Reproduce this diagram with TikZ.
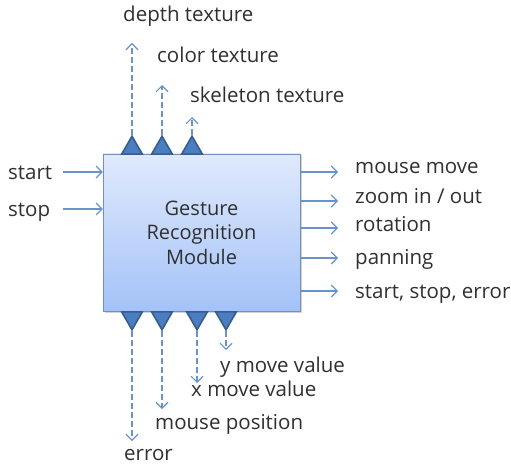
\documentclass[tikz,border=0pt]{standalone}
\usepackage{fontspec}
\setmainfont{Open Sans}
\usetikzlibrary{arrows.meta,positioning,shapes.geometric,shadows}
\definecolor{linkblue}{HTML}{6A93CC}
\definecolor{portblue}{HTML}{4A7EC0}
\definecolor{portedge}{HTML}{375C8E}
\definecolor{boxedge}{HTML}{6F91C2}
\definecolor{boxtop}{HTML}{E0EAFC}
\definecolor{boxbottom}{HTML}{A4C2F8}
\definecolor{txt}{HTML}{303030}
\tikzstyle{module}=[
	rectangle,
	draw=boxedge,
	thin,
	top color=boxtop,
	bottom color=boxbottom,
	drop shadow={opacity=.35, shadow xshift=1.5pt, shadow yshift=-1.5pt},
	minimum width=197pt,
	minimum height=157pt,
	align=center,
	text=txt,
	font=\fontsize{20}{24.5}\selectfont
]
\tikzstyle{port}=[
	regular polygon,
	regular polygon sides=3,
	minimum size=24pt,
	inner sep=0pt,
	fill=portblue,
	draw=portedge,
	line width=1.6pt
]
\tikzstyle{signal}=[
	-{Straight Barb[length=6pt,width=12pt]},
	draw=linkblue,
	line width=1.1pt
]
\tikzstyle{result}=[
	signal,
	dash pattern=on 6pt off 3pt
]
\tikzstyle{sigtext}=[
	anchor=west,
	inner sep=0pt,
	text=txt,
	text height=13pt,
	text depth=3pt,
	font=\fontsize{20.5}{22}\selectfont
]

\begin{document}
\begin{tikzpicture}[x=1pt,y=-1pt]
\useasboundingbox (0,0) rectangle (511,465);
\node [module] (module) at (201.5,232.5) {Gesture\\Recognition\\Module};
% output ports on top
\node [port, anchor=south] (depth) at (132,155) {};
\node [port, anchor=south] (color) at (162,155) {};
\node [port, anchor=south] (skeleton) at (192,155) {};
% output ports below
\node [port, shape border rotate=180, anchor=north] (error) at (132,311) {};
\node [port, shape border rotate=180, anchor=north] (mousepos) at (162,311) {};
\node [port, shape border rotate=180, anchor=north] (xmove) at (197,311) {};
\node [port, shape border rotate=180, anchor=north] (ymove) at (226,311) {};

\coordinate (depthend) at (132,43);
\coordinate (colorend) at (162,85);
\coordinate (skeletonend) at (192,117);
\coordinate (errorend) at (132,441);
\coordinate (mouseposend) at (162,409);
\coordinate (xmoveend) at (197,383);
\coordinate (ymoveend) at (226,350);
\draw [result] (depth.north) -- (depthend);
\draw [result] (color.north) -- (colorend);
\draw [result] (skeleton.north) -- (skeletonend);
\draw [result] (error.south) -- (errorend);
\draw [result] (mousepos.south) -- (mouseposend);
\draw [result] (xmove.south) -- (xmoveend);
\draw [result] (ymove.south) -- (ymoveend);

\node [sigtext] at (123,17) {depth texture};
\node [sigtext] at (157,58) {color texture};
\node [sigtext] at (190,98) {skeleton texture};
\node [sigtext] at (124,455) {error};
\node [sigtext] at (155,424) {mouse position};
\node [sigtext] at (191,391) {x move value};
\node [sigtext] at (220,367) {y move value};

% inputs
\coordinate (startin) at (63,172);
\coordinate (stopin) at (63,209);
\draw [signal] (startin) -- (startin -| module.west);
\draw [signal] (stopin) -- (stopin -| module.west);
\node [sigtext] at (8,174) {start};
\node [sigtext] at (8,211) {stop};

% outputs
\coordinate (moveout) at (338,172);
\coordinate (zoomout) at (338,201);
\coordinate (rotout) at (338,228);
\coordinate (panout) at (338,258);
\coordinate (stateout) at (338,291);
\draw [signal] (moveout -| module.east) -- (moveout);
\draw [signal] (zoomout -| module.east) -- (zoomout);
\draw [signal] (rotout -| module.east) -- (rotout);
\draw [signal] (panout -| module.east) -- (panout);
\draw [signal] (stateout -| module.east) -- (stateout);
\node [sigtext] at (355,168.5) {mouse move};
\node [sigtext] at (355,199) {zoom in / out};
\node [sigtext] at (355,226) {rotation};
\node [sigtext] at (355,259) {panning};
\node [sigtext] at (355,293) {start, stop, error};
\end{tikzpicture}
\end{document}
